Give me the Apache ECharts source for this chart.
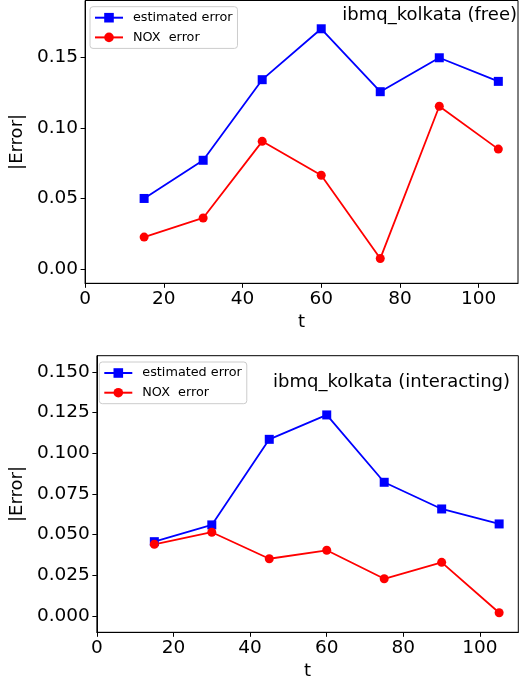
<!DOCTYPE html>
<html><head><meta charset="utf-8">
<script src="https://cdn.jsdelivr.net/npm/echarts@6/dist/echarts.min.js"></script>
<style>html,body{margin:0;padding:0;background:#fff}#c{width:519px;height:682px}</style>
</head><body><div id="c"></div>
<script>
const tValues = [15, 30, 45, 60, 75, 90, 105];
const freeEstimated = [0.050, 0.077, 0.134, 0.170, 0.1255, 0.1495, 0.1328];
const freeNox = [0.0227, 0.0362, 0.0904, 0.0664, 0.0075, 0.1152, 0.0849];
const interEstimated = [0.0457, 0.0560, 0.1086, 0.1236, 0.0822, 0.0658, 0.0566];
const interNox = [0.0441, 0.0515, 0.0352, 0.0404, 0.0229, 0.0330, 0.0020];
const xTicks = [0, 20, 40, 60, 80, 100];
const freeYTicks = [0.00, 0.05, 0.10, 0.15];
const interYTicks = [0.000, 0.025, 0.050, 0.075, 0.100, 0.125, 0.150];
const titles = ['ibmq_kolkata (free)', 'ibmq_kolkata (interacting)'];
const seriesNames = ['estimated error', 'NOX  error'];

const FONT = 'DejaVu Sans';
const chart = echarts.init(document.getElementById('c'), null, {renderer: 'canvas'});

function pairs(vals){ return tValues.map((t,i)=>[t, vals[i]]); }

function xAxis(gi){
  return {
    gridIndex: gi, type: 'value', min: 0, max: 110,
    name: 't', nameLocation: 'middle', nameGap: 30,
    nameTextStyle: {fontFamily: FONT, fontSize: 18, color: '#000'},
    axisLine: {show: true, onZero: false, lineStyle: {color: '#000', width: 1}},
    axisTick: {show: true, length: 4.5, lineStyle: {color: '#000', width: 1}, customValues: xTicks},
    axisLabel: {fontFamily: FONT, fontSize: 18.5, color: '#000', margin: 6, customValues: xTicks},
    splitLine: {show: false}
  };
}
function yAxis(gi, min, max, ticks, dec, gap){
  return {
    gridIndex: gi, type: 'value', min: min, max: max,
    name: '|Error|', nameLocation: 'middle', nameGap: gap, nameRotate: 90,
    nameTextStyle: {fontFamily: FONT, fontSize: 18, color: '#000'},
    axisLine: {show: true, onZero: false, lineStyle: {color: '#000', width: 1}},
    axisTick: {show: true, length: 4.5, lineStyle: {color: '#000', width: 1}, customValues: ticks},
    axisLabel: {fontFamily: FONT, fontSize: 18.5, color: '#000', margin: 7, customValues: ticks,
      formatter: v => v.toFixed(dec)},
    splitLine: {show: false}
  };
}
function lineSeries(name, data, gi, color, symbol){
  return {
    name: name, type: 'line', xAxisIndex: gi, yAxisIndex: gi, data: pairs(data),
    symbol: symbol, symbolSize: 9,
    showAllSymbol: true,
    lineStyle: {color: color, width: 1.8},
    itemStyle: {color: color},
    animation: false
  };
}
function legend(left, top){
  return {
    left: left, top: top, orient: 'vertical',
    data: seriesNames,
    itemWidth: 28, itemHeight: 12, itemGap: 6.7,
    padding: [4.5, 5, 4.5, 4],
    borderColor: '#cccccc', borderWidth: 1, borderRadius: 3,
    backgroundColor: 'rgba(255,255,255,0.8)',
    textStyle: {fontFamily: FONT, fontSize: 12.8, color: '#000', padding: [0,0,0,5]},
    selectedMode: false
  };
}

chart.setOption({
  animation: false,
  backgroundColor: '#fff',
  grid: [
    {left: 83.3, top: 0.5, right: 1, height: 282.8, show: true, borderColor: '#000', borderWidth: 1, containLabel: false},
    {left: 92.7, top: 355.7, right: 0.7, height: 276.6, show: true, borderColor: '#000', borderWidth: 1, containLabel: false}
  ],
  xAxis: [xAxis(0), xAxis(1)],
  yAxis: [yAxis(0, -0.01, 0.19, freeYTicks, 2, 55), yAxis(1, -0.01, 0.16, interYTicks, 3, 64)],
  legend: [legend(90, 6.7), legend(99.3, 362)],
  title: [
    {text: titles[0], right: 2, top: 6, padding: 0, textStyle: {fontFamily: FONT, fontSize: 18, fontWeight: 'normal', color: '#000'}},
    {text: titles[1], right: 9, top: 373, padding: 0, textStyle: {fontFamily: FONT, fontSize: 18, fontWeight: 'normal', color: '#000'}}
  ],
  series: [
    lineSeries(seriesNames[0], freeEstimated, 0, '#0000ff', 'rect'),
    lineSeries(seriesNames[1], freeNox, 0, '#ff0000', 'circle'),
    lineSeries(seriesNames[0], interEstimated, 1, '#0000ff', 'rect'),
    lineSeries(seriesNames[1], interNox, 1, '#ff0000', 'circle')
  ]
});
</script></body></html>
